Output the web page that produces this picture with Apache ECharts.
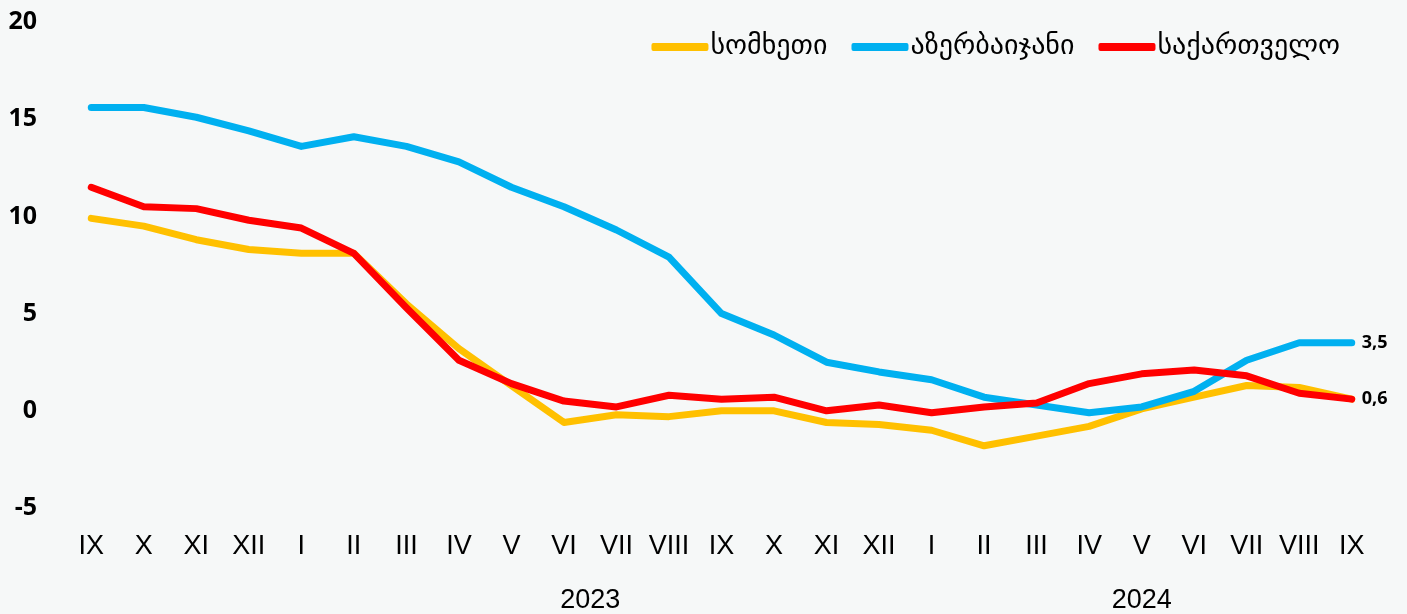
<!DOCTYPE html>
<html>
<head>
<meta charset="utf-8">
<script src="https://cdn.jsdelivr.net/npm/echarts@6/dist/echarts.min.js"></script>
<style>
  html, body { margin: 0; padding: 0; background: #f6f8f8; }
  #main { width: 1407px; height: 614px; }
</style>
</head>
<body>
<div id="main"></div>
<script>
// months IX 2022 .. IX 2024
const months = ['IX', 'X', 'XI', 'XII', 'I', 'II', 'III', 'IV', 'V', 'VI', 'VII', 'VIII',
  'IX', 'X', 'XI', 'XII', 'I', 'II', 'III', 'IV', 'V', 'VI', 'VII', 'VIII', 'IX']
// year captions, placed at the centre of their months (category index)
const yearPos = [9.5, 20]
const yearText = ['2023', '2024']

const seriesNames = ['სომხეთი', 'აზერბაიჯანი', 'საქართველო']
const armenia = [9.9, 9.5, 8.8, 8.3, 8.1, 8.1, 5.5, 3.2, 1.3, -0.6, -0.2, -0.3,
  0.0, 0.0, -0.6, -0.7, -1.0, -1.8, -1.3, -0.8, 0.1, 0.7, 1.3, 1.2, 0.6]
const azerbaijan = [15.6, 15.6, 15.1, 14.4, 13.6, 14.1, 13.6, 12.8, 11.5, 10.5, 9.3, 7.9,
  5.0, 3.9, 2.5, 2.0, 1.6, 0.7, 0.3, -0.1, 0.2, 1.0, 2.6, 3.5, 3.5]
const georgia = [11.5, 10.5, 10.4, 9.8, 9.4, 8.1, 5.3, 2.6, 1.4, 0.5, 0.2, 0.8,
  0.6, 0.7, 0.0, 0.3, -0.1, 0.2, 0.4, 1.4, 1.9, 2.1, 1.8, 0.9, 0.6]
const colors = ['#ffc000', '#00b0f0', '#ff0000']

const myChart = echarts.init(document.getElementById('main'))

function lineSeries(i, data, showEnd) {
  return {
    name: seriesNames[i],
    type: 'line',
    data: data,
    symbol: 'none',
    color: colors[i],
    lineStyle: { width: 7, color: colors[i], cap: 'round', join: 'round' },
    endLabel: {
      show: showEnd,
      distance: 10,
      color: '#000',
      fontFamily: 'Open Sans',
      fontWeight: 'bold',
      fontSize: 18,
      formatter: p => String(p.value).replace('.', ',')
    },
    emphasis: { disabled: true }
  }
}

const option = {
  backgroundColor: '#f6f8f8',
  animation: false,
  legend: {
    top: 28,
    right: 62,
    itemWidth: 57,
    itemHeight: 8,
    itemGap: 24,
    icon: 'roundRect',
    textStyle: { fontFamily: 'DejaVu Sans', fontSize: 28, color: '#000', padding: [0, 0, 0, -3] },
    data: seriesNames
  },
  grid: { left: 65, right: 29, top: 22, height: 487 },
  xAxis: [
    {
      type: 'category',
      data: months,
      axisLine: { show: false },
      axisTick: { show: false },
      axisLabel: {
        interval: 0,
        margin: 25,
        color: '#000',
        fontFamily: 'Liberation Sans',
        fontSize: 27
      }
    },
    {
      type: 'value',
      position: 'bottom',
      offset: 54,
      min: -0.5,
      max: months.length - 0.5,
      interval: 0.5,
      axisLine: { show: false },
      axisTick: { show: false },
      splitLine: { show: false },
      axisLabel: {
        margin: 25,
        color: '#000',
        fontFamily: 'Liberation Sans',
        fontSize: 27,
        showMinLabel: true,
        showMaxLabel: true,
        formatter: v => {
          const k = yearPos.indexOf(v)
          return k >= 0 ? yearText[k] : ''
        }
      }
    }
  ],
  yAxis: {
    type: 'value',
    min: -5,
    max: 20,
    interval: 5,
    splitLine: { show: false },
    axisLine: { show: false },
    axisTick: { show: false },
    axisLabel: {
      margin: 28,
      color: '#000',
      fontFamily: 'Open Sans',
      fontWeight: 'bold',
      fontSize: 25
    }
  },
  series: [
    lineSeries(0, armenia, false),
    lineSeries(1, azerbaijan, true),
    lineSeries(2, georgia, true)
  ]
}

myChart.setOption(option)
</script>
</body>
</html>
